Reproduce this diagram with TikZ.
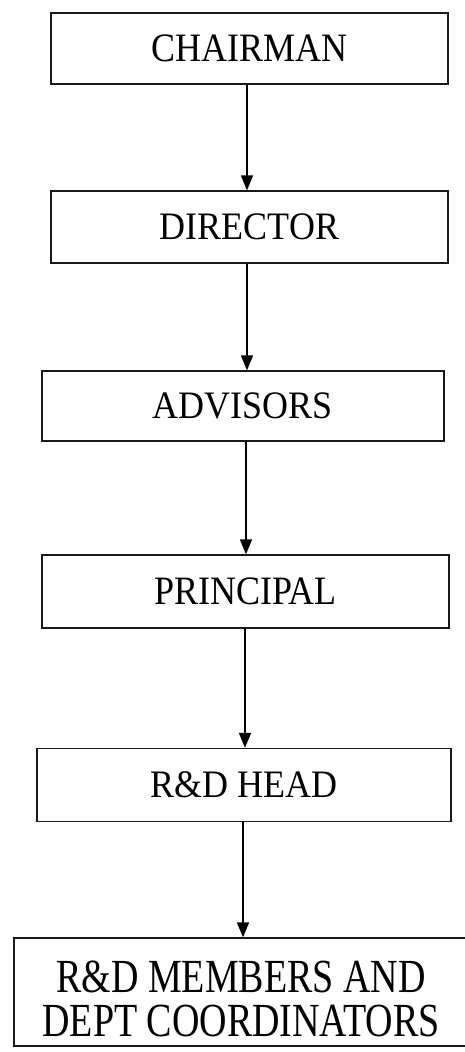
\documentclass[tikz,border=0pt]{standalone}
\usepackage{fontspec}
\setmainfont{Liberation Serif}
\usetikzlibrary{arrows.meta}
\begin{document}
\begin{tikzpicture}[x=1pt,y=-1pt,
  orgbox/.style={draw=black!90, line width=1.3pt, rectangle, inner sep=0pt},
  orgtext/.style={font=\fontsize{36}{33}\selectfont, inner sep=0pt},
  bigtext/.style={font=\fontsize{38}{33}\selectfont, inner sep=0pt},
  link/.style={line width=1.6pt, -{Triangle[length=15pt,width=12pt]}}]
\useasboundingbox[fill=white] (0,0) rectangle (465,1052);
\node[orgbox, orgtext, minimum width=397pt, minimum height=71pt] (chair) at (249.5,48.5) {\scalebox{1}[1.12]{CHAIRMAN}};
\node[orgbox, orgtext, minimum width=397pt, minimum height=72pt] (dir) at (249.5,227) {\scalebox{1}[1.08]{DIRECTOR}};
\node[orgbox, orgtext, minimum width=402pt, minimum height=70pt] (adv) at (243,406) {\scalebox{1}[1.08]{ADVISORS}};
\node[orgbox, orgtext, minimum width=407pt, minimum height=73pt] (prin) at (245.5,591.5) {\scalebox{1}[1.12]{PRINCIPAL}};
\node[orgbox, orgtext, minimum width=414pt, minimum height=73pt] (head) at (244,785) {\scalebox{1}[1.08]{R\&D HEAD}};
\node[orgbox, minimum width=470pt, minimum height=108pt] (mem) at (249,992) {};
\node[bigtext] (memtext) at (241,1005) {\scalebox{1}[1.25]{\begin{tabular}{@{}c@{}}R\&D MEMBERS AND\\DEPT COORDINATORS\end{tabular}}};
\draw[link] (247,0 |- chair.south) -- (247,0 |- dir.north);
\draw[link] (247,0 |- dir.south) -- (247,0 |- adv.north);
\draw[link] (246,0 |- adv.south) -- (246,0 |- prin.north);
\draw[link] (245,0 |- prin.south) -- (245,0 |- head.north);
\draw[link] (243,0 |- head.south) -- (243,0 |- mem.north);
\end{tikzpicture}
\end{document}
